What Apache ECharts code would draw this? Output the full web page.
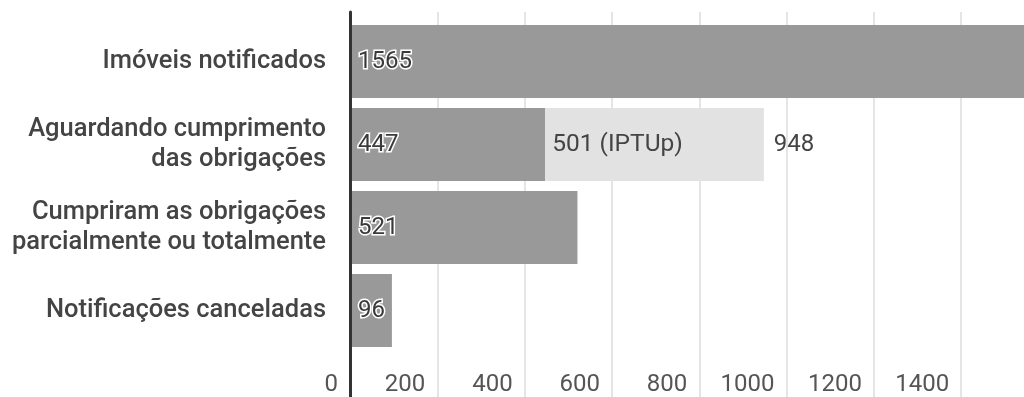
<!DOCTYPE html>
<html>
<head>
<meta charset="utf-8">
<script src="https://cdn.jsdelivr.net/npm/echarts@6/dist/echarts.min.js"></script>
<style>
html,body{margin:0;padding:0;background:#fff;}
#chart{width:1024px;height:397px;}
</style>
</head>
<body>
<div id="chart"></div>
<script>
var categories = [
  "Imóveis notificados",
  "Aguardando cumprimento\ndas obrigações",
  "Cumpriram as obrigações\nparcialmente ou totalmente",
  "Notificações canceladas"
];
var mainValues = [1565, 447, 521, 96];
var iptupValues = [null, 501, null, null];
var totalValues = [null, 948, null, null];
var tickValues = [0, 200, 400, 600, 800, 1000, 1200, 1400, 1600];

var axisMin = tickValues[0];
var axisMax = tickValues[tickValues.length - 1];
var axisInterval = tickValues[1] - tickValues[0];
var FONT = 'Roboto';

var chart = echarts.init(document.getElementById('chart'));
chart.setOption({
  animation: false,
  backgroundColor: '#ffffff',
  grid: [
    {left: 350, right: -24.5, top: 20, bottom: 45, outerBoundsMode: 'none', containLabel: false},
    {left: 350, right: -24.5, top: 12, bottom: 0, outerBoundsMode: 'none', containLabel: false}
  ],
  xAxis: [
    {
      gridIndex: 0, type: 'value', min: axisMin, max: axisMax, interval: axisInterval,
      splitLine: {show: false}, axisLine: {show: false}, axisTick: {show: false},
      axisLabel: {
        color: '#555', fontSize: 24, fontFamily: FONT, align: 'right',
        padding: [0, 12, 0, 0], margin: 21,
        formatter: function (v) { return v === axisMax ? '' : String(v); }
      }
    },
    {
      gridIndex: 1, type: 'value', min: axisMin, max: axisMax, interval: axisInterval,
      splitLine: {show: true, lineStyle: {color: '#dddddd', width: 1.5}},
      axisLine: {show: false}, axisTick: {show: false}, axisLabel: {show: false}
    }
  ],
  yAxis: [
    {
      gridIndex: 0, type: 'category', data: categories, inverse: true,
      axisLine: {show: false}, axisTick: {show: false},
      axisLabel: {
        color: '#444', fontSize: 25.5, fontWeight: 500, fontFamily: FONT,
        margin: 24, lineHeight: 30, align: 'right', padding: [7, 0, 0, 0]
      }
    },
    {
      gridIndex: 1, type: 'value', z: 10,
      axisLine: {show: true, lineStyle: {color: '#333', width: 3}},
      axisTick: {show: false}, axisLabel: {show: false}, splitLine: {show: false}
    }
  ],
  series: [
    {
      name: 'Total', type: 'bar', stack: 'a', xAxisIndex: 0, yAxisIndex: 0,
      data: mainValues, barCategoryGap: '12%',
      itemStyle: {color: '#999999'},
      label: {
        show: true, position: 'insideLeft', distance: 8,
        color: '#3a3a3a', fontSize: 24, fontFamily: FONT,
        textBorderColor: '#ffffff', textBorderWidth: 3
      }
    },
    {
      name: 'IPTUp', type: 'bar', stack: 'a', xAxisIndex: 0, yAxisIndex: 0,
      data: iptupValues,
      itemStyle: {color: '#e2e2e2'},
      label: {
        show: true, position: 'insideLeft', distance: 7,
        color: '#444', fontSize: 24.5, fontFamily: FONT,
        formatter: function (p) { return p.value + ' (IPTUp)'; }
      }
    },
    {
      name: 'Soma', type: 'bar', stack: 'a', xAxisIndex: 0, yAxisIndex: 0,
      data: totalValues.map(function (v) { return v == null ? null : 0; }),
      itemStyle: {color: 'rgba(0,0,0,0)'},
      label: {
        show: true, position: 'right', distance: 10,
        color: '#444', fontSize: 24, fontFamily: FONT,
        formatter: function (p) { return String(totalValues[p.dataIndex]); }
      }
    }
  ]
});
</script>
</body>
</html>
